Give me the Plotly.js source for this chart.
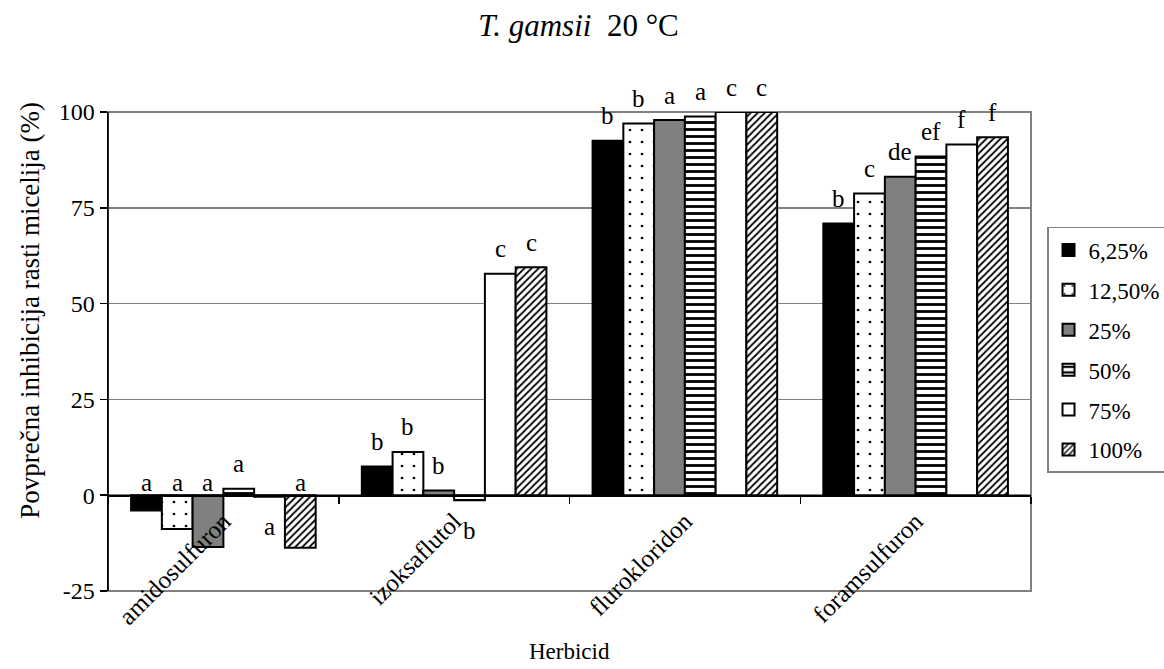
<!DOCTYPE html>
<html>
<head>
<meta charset="utf-8">
<script src="https://cdn.plot.ly/plotly-3.0.1.min.js"></script>
<style>html,body{margin:0;padding:0;background:#fff;}#chart{width:1164px;height:669px;}</style>
</head>
<body>
<div id="chart"></div>
<script>
const categories = ['amidosulfuron', 'izoksaflutol', 'flurokloridon', 'foramsulfuron'];
const seriesNames = ['6,25%', '12,50%', '25%', '50%', '75%', '100%'];
const v625 = [-4.0, 7.5, 92.5, 70.9];
const v1250 = [-8.8, 11.3, 97.0, 78.7];
const v25 = [-13.5, 1.2, 97.9, 83.1];
const v50 = [1.7, -1.3, 98.8, 88.4];
const v75 = [-0.4, 57.8, 100.0, 91.5];
const v100 = [-13.7, 59.5, 100.0, 93.4];
const l625 = ['a', 'b', 'b', 'b'];
const l1250 = ['a', 'b', 'b', 'c'];
const l25 = ['a', 'b', 'a', 'de'];
const l50 = ['a', 'b', 'a', 'ef'];
const l75 = ['a', 'c', 'c', 'f'];
const l100 = ['a', 'c', 'c', 'f'];
const yTicks = [-25, 0, 25, 50, 75, 100];

const values = [v625, v1250, v25, v50, v75, v100];
const letters = [l625, l1250, l25, l50, l75, l100];
const FONT = 'Liberation Serif';

const styles = [
  {color: '#000000', pattern: {shape: ''}},
  {color: '#ffffff', pattern: {shape: '.', fgcolor: '#000000', bgcolor: '#ffffff', size: 12, solidity: 0.04, fillmode: 'replace'}},
  {color: '#808080', pattern: {shape: ''}},
  {color: '#ffffff', pattern: {shape: '-', fgcolor: '#000000', bgcolor: '#ffffff', size: 7, solidity: 0.4, fillmode: 'replace'}},
  {color: '#ffffff', pattern: {shape: ''}},
  {color: '#ffffff', pattern: {shape: '/', fgcolor: '#000000', bgcolor: '#ffffff', size: 5, solidity: 0.35, fillmode: 'replace'}}
];

const traces = seriesNames.map((name, i) => ({
  type: 'bar',
  name: name,
  x: categories,
  y: values[i],
  legendgroup: 'g' + i,
  marker: {
    color: styles[i].color,
    pattern: styles[i].pattern,
    line: {color: '#000000', width: 2}
  },
  hoverinfo: 'x+y+name'
}));

const nS = seriesNames.length;
const groupW = 0.8;
const barW = groupW / nS;
const annotations = [];
for (let i = 0; i < nS; i++) {
  for (let c = 0; c < categories.length; c++) {
    const v = values[i][c];
    const xPos = c - groupW / 2 + barW * (i + 0.5);
    let y, shift;
    if (v < 0 && v > -2) { y = v; shift = -30; }
    else if (v < 0) { y = 0; shift = 13; }
    else { y = v; shift = 25; }
    annotations.push({
      x: xPos, y: y, xref: 'x', yref: 'y', text: letters[i][c],
      showarrow: false, yshift: shift, yanchor: 'middle', xanchor: 'center',
      font: {family: FONT, size: 25, color: '#000'}
    });
  }
}

annotations.push({
  text: 'Herbicid', xref: 'paper', yref: 'paper', x: 0.5, y: 0, yshift: -60,
  showarrow: false, yanchor: 'middle', font: {family: FONT, size: 23, color: '#000'}
});
annotations.push({
  text: 'Povprečna inhibicija rasti micelija (%)', xref: 'paper', yref: 'paper',
  x: 0, xshift: -78, y: 0.585, textangle: -90, showarrow: false,
  xanchor: 'center', yanchor: 'middle', font: {family: FONT, size: 27, color: '#000'}
});

const layout = {
  width: 1164, height: 669,
  margin: {l: 108, r: 133, t: 112, b: 78},
  paper_bgcolor: '#ffffff', plot_bgcolor: '#ffffff',
  font: {family: FONT, color: '#000'},
  title: {
    text: '<i>T. gamsii</i>&nbsp; 20 °C',
    font: {family: FONT, size: 31, color: '#000'},
    x: 0.497, xanchor: 'center', y: 0.963, yref: 'container', yanchor: 'middle'
  },
  barmode: 'group', bargap: 0.2, bargroupgap: 0,
  xaxis: {
    type: 'category', range: [-0.5, 3.5],
    anchor: 'free', position: 0.2,
    showline: true, linecolor: '#000', linewidth: 1.5,
    ticks: 'outside', ticklen: 7, tickcolor: '#000', tickwidth: 1.5,
    tickson: 'boundaries',
    tickangle: -45, showgrid: false, zeroline: false,
    tickfont: {family: FONT, size: 25, color: '#000'},
    fixedrange: true
  },
  yaxis: {
    range: [-25, 100], tickvals: yTicks, ticktext: yTicks.map(String),
    showline: true, linecolor: '#000', linewidth: 1.5, mirror: false,
    ticks: 'outside', ticklen: 7, tickcolor: '#000', tickwidth: 1.5,
    showgrid: true, gridcolor: '#808080', gridwidth: 1.5, zeroline: false,
    tickfont: {family: FONT, size: 24, color: '#000'},
    fixedrange: true
  },
  shapes: [
    {type: 'rect', xref: 'paper', yref: 'paper', x0: 0, x1: 1, y0: 0, y1: 1, line: {color: '#808080', width: 2}, layer: 'below'},
    {type: 'line', xref: 'paper', yref: 'paper', x0: 0, x1: 0, y0: 0, y1: 1, line: {color: '#000', width: 1.5}, layer: 'above'}
  ],
  legend: {
    xref: 'container', yref: 'container',
    x: 0.8995, xanchor: 'left', y: 0.6607, yanchor: 'top',
    bordercolor: '#808080', borderwidth: 1.5, bgcolor: '#fff',
    font: {family: FONT, size: 23, color: '#000'},
    tracegroupgap: 7, itemwidth: 30, traceorder: 'grouped'
  },
  annotations: annotations,
  showlegend: true
};

Plotly.newPlot('chart', traces, layout, {displayModeBar: false, staticPlot: true});
</script>
</body>
</html>
